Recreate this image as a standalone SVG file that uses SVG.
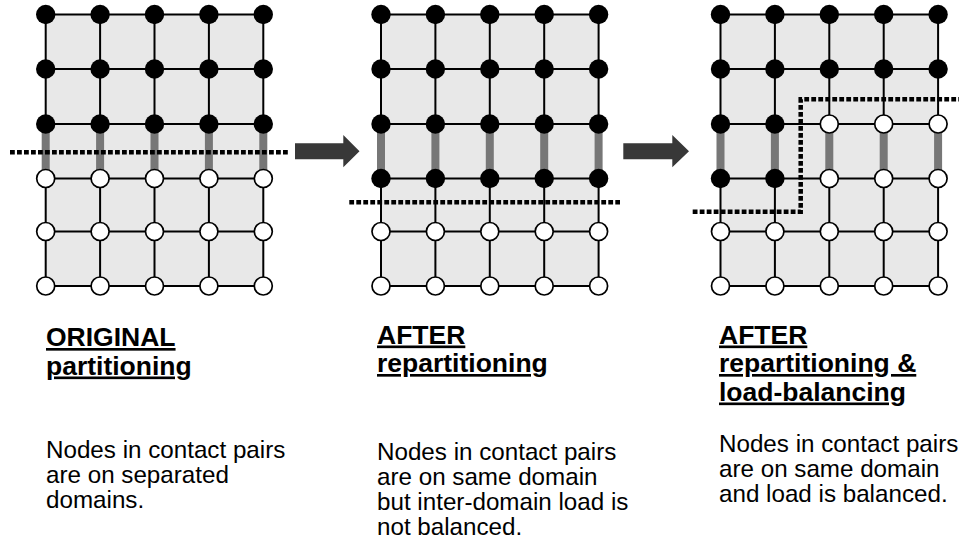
<svg xmlns="http://www.w3.org/2000/svg" width="959" height="544" viewBox="0 0 959 544">
<style>
.bg{fill:#e8e8e8;stroke:none}
.gl{stroke:#000;stroke-width:2;fill:none}
.bar{stroke:#777;stroke-width:8}
.b{fill:#000}
.w{fill:#fff;stroke:#000;stroke-width:1.7}
.cut{fill:none;stroke:#000;stroke-width:4.5;stroke-dasharray:4.8 2.2}
.arr{fill:#383838}
text{font-family:"Liberation Sans",Arial,sans-serif;fill:#000}
.h{font-size:26.5px;font-weight:bold;text-decoration:underline}
.t{font-size:24.2px}
</style>
<defs>
<g id="grid">
<path class="gl" d="M0,0H217.6M0,54.5H217.6M0,109.5H217.6M0,164H217.6M0,217H217.6M0,271.5H217.6M0,0V271.5M54.4,0V271.5M108.8,0V271.5M163.2,0V271.5M217.6,0V271.5"/>
<path class="bar" d="M0,109.5V164M54.4,109.5V164M108.8,109.5V164M163.2,109.5V164M217.6,109.5V164"/>
</g>
</defs>

<g id="panel-original">
<rect class="bg" x="45.7" y="14.5" width="217.6" height="271.5"/>
<use href="#grid" x="45.7" y="14.5"/>
<g id="p1-nodes">
<circle class="b" cx="45.7" cy="14.5" r="9.7"/><circle class="b" cx="100.1" cy="14.5" r="9.7"/><circle class="b" cx="154.5" cy="14.5" r="9.7"/><circle class="b" cx="208.9" cy="14.5" r="9.7"/><circle class="b" cx="263.3" cy="14.5" r="9.7"/>
<circle class="b" cx="45.7" cy="69" r="9.7"/><circle class="b" cx="100.1" cy="69" r="9.7"/><circle class="b" cx="154.5" cy="69" r="9.7"/><circle class="b" cx="208.9" cy="69" r="9.7"/><circle class="b" cx="263.3" cy="69" r="9.7"/>
<circle class="b" cx="45.7" cy="124" r="9.7"/><circle class="b" cx="100.1" cy="124" r="9.7"/><circle class="b" cx="154.5" cy="124" r="9.7"/><circle class="b" cx="208.9" cy="124" r="9.7"/><circle class="b" cx="263.3" cy="124" r="9.7"/>
<circle class="w" cx="45.7" cy="178.5" r="9"/><circle class="w" cx="100.1" cy="178.5" r="9"/><circle class="w" cx="154.5" cy="178.5" r="9"/><circle class="w" cx="208.9" cy="178.5" r="9"/><circle class="w" cx="263.3" cy="178.5" r="9"/>
<circle class="w" cx="45.7" cy="231.5" r="9"/><circle class="w" cx="100.1" cy="231.5" r="9"/><circle class="w" cx="154.5" cy="231.5" r="9"/><circle class="w" cx="208.9" cy="231.5" r="9"/><circle class="w" cx="263.3" cy="231.5" r="9"/>
<circle class="w" cx="45.7" cy="286" r="9"/><circle class="w" cx="100.1" cy="286" r="9"/><circle class="w" cx="154.5" cy="286" r="9"/><circle class="w" cx="208.9" cy="286" r="9"/><circle class="w" cx="263.3" cy="286" r="9"/>
</g>
<path class="cut" d="M10,152.3H289"/>
<text class="h" x="46" y="346">ORIGINAL</text>
<text class="h" x="46" y="374.5">partitioning</text>
<text class="t" x="46" y="458">Nodes in contact pairs</text>
<text class="t" x="46" y="483">are on separated</text>
<text class="t" x="46" y="508">domains.</text>
</g>

<g id="panel-repartitioned">
<rect class="bg" x="381" y="14.5" width="217.6" height="271.5"/>
<use href="#grid" x="381" y="14.5"/>
<g id="p2-nodes">
<circle class="b" cx="381" cy="14.5" r="9.7"/><circle class="b" cx="435.4" cy="14.5" r="9.7"/><circle class="b" cx="489.8" cy="14.5" r="9.7"/><circle class="b" cx="544.2" cy="14.5" r="9.7"/><circle class="b" cx="598.6" cy="14.5" r="9.7"/>
<circle class="b" cx="381" cy="69" r="9.7"/><circle class="b" cx="435.4" cy="69" r="9.7"/><circle class="b" cx="489.8" cy="69" r="9.7"/><circle class="b" cx="544.2" cy="69" r="9.7"/><circle class="b" cx="598.6" cy="69" r="9.7"/>
<circle class="b" cx="381" cy="124" r="9.7"/><circle class="b" cx="435.4" cy="124" r="9.7"/><circle class="b" cx="489.8" cy="124" r="9.7"/><circle class="b" cx="544.2" cy="124" r="9.7"/><circle class="b" cx="598.6" cy="124" r="9.7"/>
<circle class="b" cx="381" cy="178.5" r="9.7"/><circle class="b" cx="435.4" cy="178.5" r="9.7"/><circle class="b" cx="489.8" cy="178.5" r="9.7"/><circle class="b" cx="544.2" cy="178.5" r="9.7"/><circle class="b" cx="598.6" cy="178.5" r="9.7"/>
<circle class="w" cx="381" cy="231.5" r="9"/><circle class="w" cx="435.4" cy="231.5" r="9"/><circle class="w" cx="489.8" cy="231.5" r="9"/><circle class="w" cx="544.2" cy="231.5" r="9"/><circle class="w" cx="598.6" cy="231.5" r="9"/>
<circle class="w" cx="381" cy="286" r="9"/><circle class="w" cx="435.4" cy="286" r="9"/><circle class="w" cx="489.8" cy="286" r="9"/><circle class="w" cx="544.2" cy="286" r="9"/><circle class="w" cx="598.6" cy="286" r="9"/>
</g>
<path class="cut" d="M349.3,202.3H620"/>
<text class="h" x="377" y="343.5">AFTER</text>
<text class="h" x="377" y="372">repartitioning</text>
<text class="t" x="377" y="460">Nodes in contact pairs</text>
<text class="t" x="377" y="485">are on same domain</text>
<text class="t" x="377" y="510">but inter-domain load is</text>
<text class="t" x="377" y="534.5">not balanced.</text>
</g>

<g id="panel-balanced">
<rect class="bg" x="720.5" y="14.5" width="217.6" height="271.5"/>
<use href="#grid" x="720.5" y="14.5"/>
<g id="p3-nodes">
<circle class="b" cx="720.5" cy="14.5" r="9.7"/><circle class="b" cx="774.9" cy="14.5" r="9.7"/><circle class="b" cx="829.3" cy="14.5" r="9.7"/><circle class="b" cx="883.7" cy="14.5" r="9.7"/><circle class="b" cx="938.1" cy="14.5" r="9.7"/>
<circle class="b" cx="720.5" cy="69" r="9.7"/><circle class="b" cx="774.9" cy="69" r="9.7"/><circle class="b" cx="829.3" cy="69" r="9.7"/><circle class="b" cx="883.7" cy="69" r="9.7"/><circle class="b" cx="938.1" cy="69" r="9.7"/>
<circle class="b" cx="720.5" cy="124" r="9.7"/><circle class="b" cx="774.9" cy="124" r="9.7"/><circle class="w" cx="829.3" cy="124" r="9"/><circle class="w" cx="883.7" cy="124" r="9"/><circle class="w" cx="938.1" cy="124" r="9"/>
<circle class="b" cx="720.5" cy="178.5" r="9.7"/><circle class="b" cx="774.9" cy="178.5" r="9.7"/><circle class="w" cx="829.3" cy="178.5" r="9"/><circle class="w" cx="883.7" cy="178.5" r="9"/><circle class="w" cx="938.1" cy="178.5" r="9"/>
<circle class="w" cx="720.5" cy="231.5" r="9"/><circle class="w" cx="774.9" cy="231.5" r="9"/><circle class="w" cx="829.3" cy="231.5" r="9"/><circle class="w" cx="883.7" cy="231.5" r="9"/><circle class="w" cx="938.1" cy="231.5" r="9"/>
<circle class="w" cx="720.5" cy="286" r="9"/><circle class="w" cx="774.9" cy="286" r="9"/><circle class="w" cx="829.3" cy="286" r="9"/><circle class="w" cx="883.7" cy="286" r="9"/><circle class="w" cx="938.1" cy="286" r="9"/>
</g>
<path class="cut" d="M692.7,211.7H800.7V99.3H959"/>
<text class="h" x="719" y="343.5">AFTER</text>
<text class="h" x="719" y="372">repartitioning &amp;</text>
<text class="h" x="719" y="400.5">load-balancing</text>
<text class="t" x="719" y="452">Nodes in contact pairs</text>
<text class="t" x="719" y="477">are on same domain</text>
<text class="t" x="719" y="502">and load is balanced.</text>
</g>

<g id="connectors">
<path class="arr" d="M295,143.3H343.3V135L359.5,151.2L343.3,167.3V159.3H295Z"/>
<path class="arr" d="M623.3,143.3H672.3V135L689,151.2L672.3,167.3V159.3H623.3Z"/>
</g>
</svg>
